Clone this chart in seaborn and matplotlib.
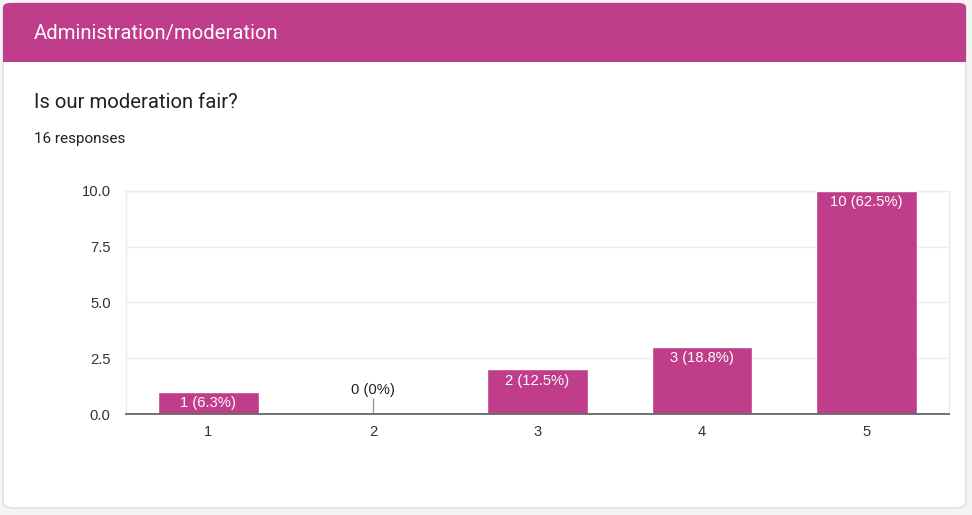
import matplotlib
matplotlib.use("Agg")
import matplotlib.pyplot as plt
from matplotlib.patches import FancyBboxPatch, Rectangle
import seaborn as sns
import pandas as pd

categories = ["1", "2", "3", "4", "5"]
counts = [1, 0, 2, 3, 10]
labels = ["1 (6.3%)", "0 (0%)", "2 (12.5%)", "3 (18.8%)", "10 (62.5%)"]
yticks = [0.0, 2.5, 5.0, 7.5, 10.0]

header_title = "Administration/moderation"
question = "Is our moderation fair?"
responses = "16 responses"

BAR = "#bf3d8b"
W, H = 972, 515

sns.set_theme(style="white")
plt.rcParams["font.family"] = ["Liberation Sans", "DejaVu Sans"]

fig = plt.figure(figsize=(W / 100, H / 100), dpi=100)
fig.patch.set_facecolor("#f4f4f4")

# card
card = FancyBboxPatch((3 / W, 1 - 508 / H), 963 / W, 505 / H,
                      boxstyle="round,pad=0,rounding_size=0.012",
                      transform=fig.transFigure, facecolor="white",
                      edgecolor="#dadce0", linewidth=1, zorder=-3)
fig.patches.append(card)
header = FancyBboxPatch((3 / W, 1 - 62 / H), 963 / W, 59 / H,
                        boxstyle="round,pad=0,rounding_size=0.008",
                        transform=fig.transFigure, facecolor=BAR,
                        edgecolor="none", zorder=-2)
fig.patches.append(header)
fig.patches.append(Rectangle((3 / W, 1 - 62 / H), 963 / W, 20 / H,
                             transform=fig.transFigure, facecolor=BAR,
                             edgecolor="none", zorder=-2))

fig.text(34 / W, 1 - 34 / H, header_title, color="white", fontsize=14.6,
         family=["Roboto", "DejaVu Sans"], va="center", ha="left")
fig.text(34 / W, 1 - 103 / H, question, color="#202124", fontsize=14.6,
         family=["Roboto", "DejaVu Sans"], va="center", ha="left")
fig.text(34 / W, 1 - 139 / H, responses, color="#202124", fontsize=11,
         family=["Roboto", "DejaVu Sans"], va="center", ha="left")

ax = fig.add_axes([126 / W, 1 - 414 / H, 823 / W, 223 / H])
ax.set_facecolor("white")
df = pd.DataFrame({"cat": categories, "count": counts})
sns.barplot(data=df, x="cat", y="count", color=BAR, width=0.61,
            saturation=1, ax=ax, zorder=3)

ax.set_ylim(0, 10)
ax.set_xlim(-0.5, 4.5)
ax.set_yticks(yticks)
ax.set_yticklabels([f"{v:.1f}" for v in yticks])
ax.yaxis.grid(True, color="#ebebeb", linewidth=1, zorder=0)
ax.set_axisbelow(True)
ax.set_xlabel("")
ax.set_ylabel("")
ax.tick_params(axis="both", length=0, labelsize=10.6, labelcolor="#333333")
ax.tick_params(axis="y", pad=11)
ax.tick_params(axis="x", pad=8)
for s in ["left", "right", "top"]:
    ax.spines[s].set_color("#ebebeb")
    ax.spines[s].set_linewidth(1)
ax.spines["bottom"].set_color("#666666")
ax.spines["bottom"].set_linewidth(1.3)
ax.spines["bottom"].set_zorder(5)

for i, (c, lab) in enumerate(zip(counts, labels)):
    if c > 0:
        ax.annotate(lab, (i, c), xytext=(0, -3), textcoords="offset points",
                    ha="center", va="top", color="white", fontsize=10.6,
                    zorder=6)
    else:
        ax.vlines(i, 0, 0.7, color="#999999", linewidth=1, zorder=4)
        ax.annotate(lab, (i, 0.7), xytext=(0, 1), textcoords="offset points",
                    ha="center", va="bottom", color="#222222", fontsize=10.6,
                    zorder=6)

fig.savefig("out.png", dpi=100, facecolor=fig.get_facecolor())
